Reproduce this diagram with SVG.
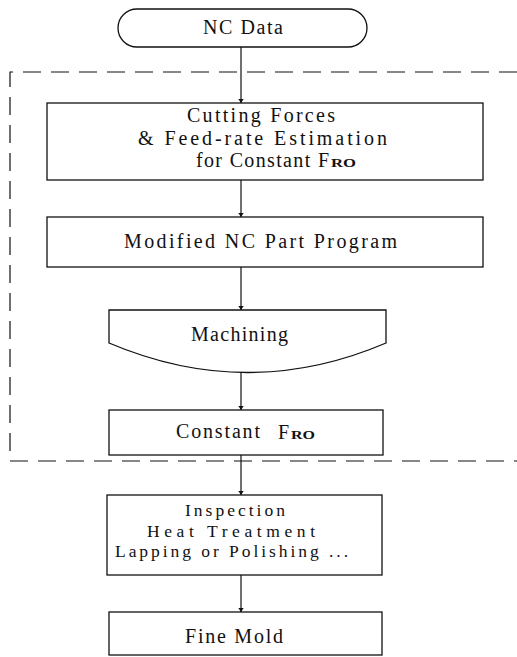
<svg xmlns="http://www.w3.org/2000/svg" width="517" height="657" viewBox="0 0 517 657">
<style>
.n{fill:#fff;stroke:#111;stroke-width:1.3}
.t{font-family:"Liberation Serif",serif;font-size:20px;fill:#111}
.u{font-family:"Liberation Serif",serif;font-size:17.5px;fill:#111}
.s{font-family:"Liberation Serif",serif;font-size:13px;font-weight:bold;fill:#111}
.c{stroke:#111;stroke-width:1.2;fill:none}
.d{stroke:#111;stroke-width:1.2;fill:none;stroke-dasharray:18 10}
</style>
<defs>
<marker id="ah" viewBox="0 0 6 10" refX="6" refY="5" markerWidth="4" markerHeight="7" orient="auto" markerUnits="userSpaceOnUse">
<path d="M0,1 L6,5 L0,9 Z" fill="#111"/>
</marker>
</defs>
<rect width="517" height="657" fill="#fff"/>
<g id="frame">
<path class="d" d="M517,72 L10,72 L10,461 L517,461"/>
</g>
<g id="connectors">
<line class="c" x1="241" y1="47" x2="241" y2="103" marker-end="url(#ah)"/>
<line class="c" x1="241" y1="180" x2="241" y2="217" marker-end="url(#ah)"/>
<line class="c" x1="241" y1="267" x2="241" y2="310" marker-end="url(#ah)"/>
<line class="c" x1="241" y1="372" x2="241" y2="410" marker-end="url(#ah)"/>
<line class="c" x1="241" y1="455" x2="241" y2="495" marker-end="url(#ah)"/>
<line class="c" x1="241" y1="575" x2="241" y2="612" marker-end="url(#ah)"/>
</g>
<g id="nc-data">
<rect class="n" x="118" y="9" width="249" height="38" rx="19" ry="19"/>
<text class="t" x="203" y="34" textLength="80">NC Data</text>
</g>
<g id="estimation">
<rect class="n" x="47" y="103" width="436" height="77"/>
<text class="t" x="187" y="122" textLength="148">Cutting Forces</text>
<text class="t" x="138" y="145" textLength="249">&amp; Feed-rate Estimation</text>
<text class="t" x="196" y="167" textLength="133">for Constant F</text>
<text class="s" x="331" y="167" textLength="25" lengthAdjust="spacingAndGlyphs">RO</text>
</g>
<g id="modified-program">
<rect class="n" x="47" y="217" width="436" height="50"/>
<text class="t" x="124" y="248" textLength="273">Modified NC Part Program</text>
</g>
<g id="machining">
<path class="n" d="M109,310 L386,310 L386,343 Q248,402 109,343 Z"/>
<text class="t" x="191" y="341" textLength="97">Machining</text>
</g>
<g id="constant-fro">
<rect class="n" x="109" y="410" width="274" height="45"/>
<text class="t" x="176" y="438" textLength="84">Constant</text>
<text class="t" x="278" y="439">F</text>
<text class="s" x="291" y="439" textLength="24" lengthAdjust="spacingAndGlyphs">RO</text>
</g>
<g id="post-process">
<rect class="n" x="107" y="495" width="275" height="80"/>
<text class="u" x="185" y="516" textLength="100">Inspection</text>
<text class="u" x="147" y="536.5" textLength="168">Heat Treatment</text>
<text class="u" x="115" y="557" textLength="233">Lapping or Polishing ...</text>
</g>
<g id="fine-mold">
<rect class="n" x="109" y="612" width="273" height="43"/>
<text class="t" x="185" y="643" textLength="98">Fine Mold</text>
</g>
</svg>
